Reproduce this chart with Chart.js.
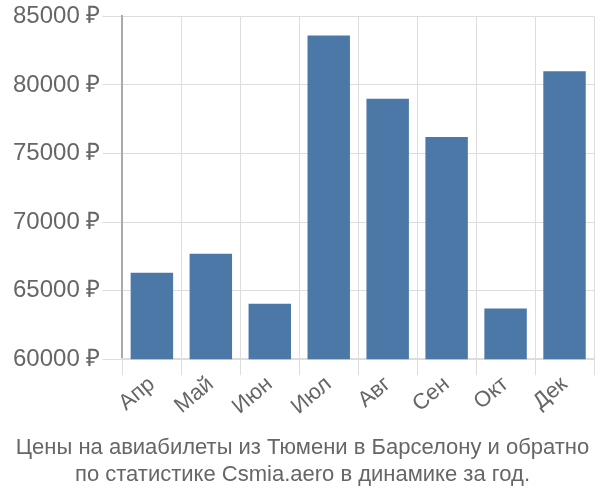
<!DOCTYPE html>
<html>
<head>
<meta charset="utf-8">
<script src="https://cdn.jsdelivr.net/npm/chart.js@4"></script>
<style>
  html, body { margin: 0; padding: 0; background: #fff; }
  #wrap { width: 600px; height: 500px; }
</style>
</head>
<body>
<div id="wrap"><canvas id="priceChart"></canvas></div>
<script>
// Цены по месяцам
const months = ['Апр', 'Май', 'Июн', 'Июл', 'Авг', 'Сен', 'Окт', 'Дек'];
const prices = [66300, 67700, 64050, 83600, 79000, 76200, 63700, 81000];
const yTicks = [60000, 65000, 70000, 75000, 80000, 85000];
const titleLines = ['Цены на авиабилеты из Тюмени в Барселону и обратно', 'по статистике Csmia.aero в динамике за год.'];

const ctx = document.getElementById('priceChart').getContext('2d');

new Chart(ctx, {
    type: 'bar',
    data: {
        labels: months,
        datasets: [{
            data: prices,
            backgroundColor: '#4c78a8',
            borderWidth: 0,
            categoryPercentage: 0.72,
            barPercentage: 1.0
        }]
    },
    options: {
        responsive: true,
        maintainAspectRatio: false,
        animation: false,
        layout: { padding: { top: 8, right: 6, left: 11, bottom: 0 } },
        scales: {
            y: {
                min: yTicks[0],
                max: yTicks[yTicks.length - 1],
                afterBuildTicks: axis => { axis.ticks = yTicks.map(v => ({ value: v })); },
                grid: { color: '#dddddd', tickLength: 20 },
                border: { color: '#aaaaaa', width: 2 },
                ticks: {
                    color: '#666666',
                    font: { family: 'Liberation Sans', size: 24 },
                    padding: 2,
                    callback: v => v + ' ₽'
                }
            },
            x: {
                grid: { color: '#dddddd', offset: true, tickLength: 16 },
                border: { color: '#dddddd', width: 2 },
                ticks: {
                    color: '#666666',
                    font: { family: 'Liberation Sans', size: 22 },
                    maxRotation: 40,
                    minRotation: 40,
                    padding: -4
                }
            }
        },
        plugins: {
            legend: { display: false },
            tooltip: { enabled: false },
            title: {
                display: true,
                position: 'bottom',
                text: titleLines,
                color: '#666666',
                font: { family: 'Liberation Sans', size: 22, weight: 'normal', lineHeight: 1.2 },
                padding: { top: 19, bottom: 12 }
            }
        }
    }
});
</script>
</body>
</html>
